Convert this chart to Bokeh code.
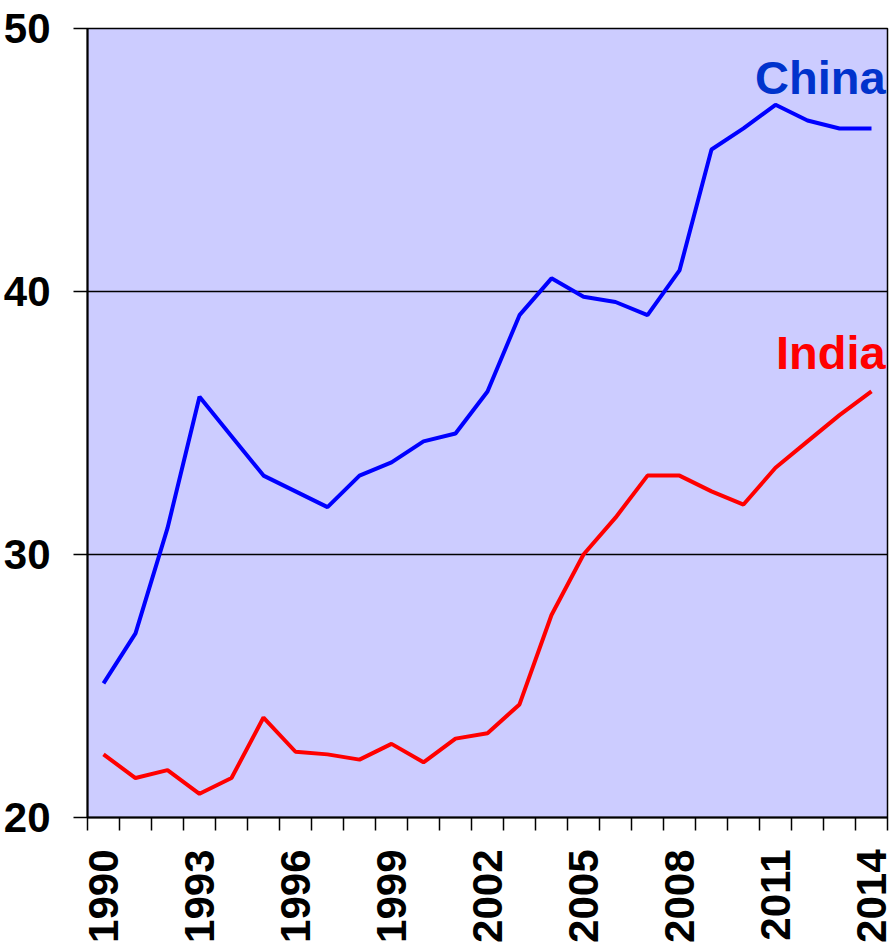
import math
from bokeh.plotting import figure
from bokeh.models import Range1d, FixedTicker, Label
from bokeh.embed import file_html
from bokeh.resources import INLINE

years = list(range(1990, 2015))
china = [25.1, 27.0, 31.0, 36.0, 34.5, 33.0, 32.4, 31.8, 33.0, 33.5, 34.3, 34.6, 36.2,
         39.1, 40.5, 39.8, 39.6, 39.1, 40.8, 45.4, 46.2, 47.1, 46.5, 46.2, 46.2]
india = [22.4, 21.5, 21.8, 20.9, 21.5, 23.8, 22.5, 22.4, 22.2, 22.8, 22.1, 23.0, 23.2,
         24.3, 27.7, 30.0, 31.4, 33.0, 33.0, 32.4, 31.9, 33.3, 34.3, 35.3, 36.2]
y_ticks = [20, 30, 40, 50]
x_label_years = list(range(1990, 2015, 3))
x_bounds = [y - 0.5 for y in years] + [years[-1] + 0.5]

FONT = "Liberation Sans"

p = figure(frame_width=800, frame_height=789, output_backend="svg", toolbar_location=None,
           x_range=Range1d(years[0] - 0.5, years[-1] + 0.5), y_range=Range1d(20, 50),
           min_border_top=28, min_border_right=5, min_border_left=0, min_border_bottom=0)

p.background_fill_color = "#CCCCFF"
p.border_fill_color = "white"
p.outline_line_color = "black"
p.outline_line_width = 1.5

p.xgrid.visible = False
p.ygrid.ticker = FixedTicker(ticks=y_ticks)
p.ygrid.grid_line_color = "black"
p.ygrid.grid_line_width = 1.3

p.yaxis.ticker = FixedTicker(ticks=y_ticks)
p.yaxis.major_tick_out = 14
p.yaxis.major_tick_in = 0
p.yaxis.minor_tick_out = 0
p.yaxis.minor_tick_in = 0
p.yaxis.major_tick_line_width = 1.5
p.yaxis.axis_line_width = 2
p.yaxis.major_label_standoff = 23
p.yaxis.major_label_text_font = FONT
p.yaxis.major_label_text_font_style = "bold"
p.yaxis.major_label_text_font_size = "42px"
p.yaxis.major_label_text_color = "black"

p.xaxis.ticker = FixedTicker(ticks=x_label_years, minor_ticks=x_bounds)
p.xaxis.major_tick_out = 0
p.xaxis.major_tick_in = 0
p.xaxis.minor_tick_out = 13
p.xaxis.minor_tick_in = 0
p.xaxis.minor_tick_line_width = 1.5
p.xaxis.minor_tick_line_color = "black"
p.xaxis.axis_line_width = 2
p.xaxis.major_label_orientation = math.pi / 2
p.xaxis.major_label_standoff = 19
p.xaxis.major_label_text_font = FONT
p.xaxis.major_label_text_font_style = "bold"
p.xaxis.major_label_text_font_size = "42px"
p.xaxis.major_label_text_color = "black"

p.line(years, china, line_color="#0000FF", line_width=4)
p.line(years, india, line_color="#FF0000", line_width=4)

p.add_layout(Label(x=2014.44, y=48.14, text="China", text_align="right", text_baseline="alphabetic",
                   text_font=FONT, text_font_style="bold", text_font_size="47px", text_color="#0033CC"))
p.add_layout(Label(x=2014.44, y=37.68, text="India", text_align="right", text_baseline="alphabetic",
                   text_font=FONT, text_font_style="bold", text_font_size="47px", text_color="#FF0000"))

open("out.html", "w").write(file_html(p, INLINE))
